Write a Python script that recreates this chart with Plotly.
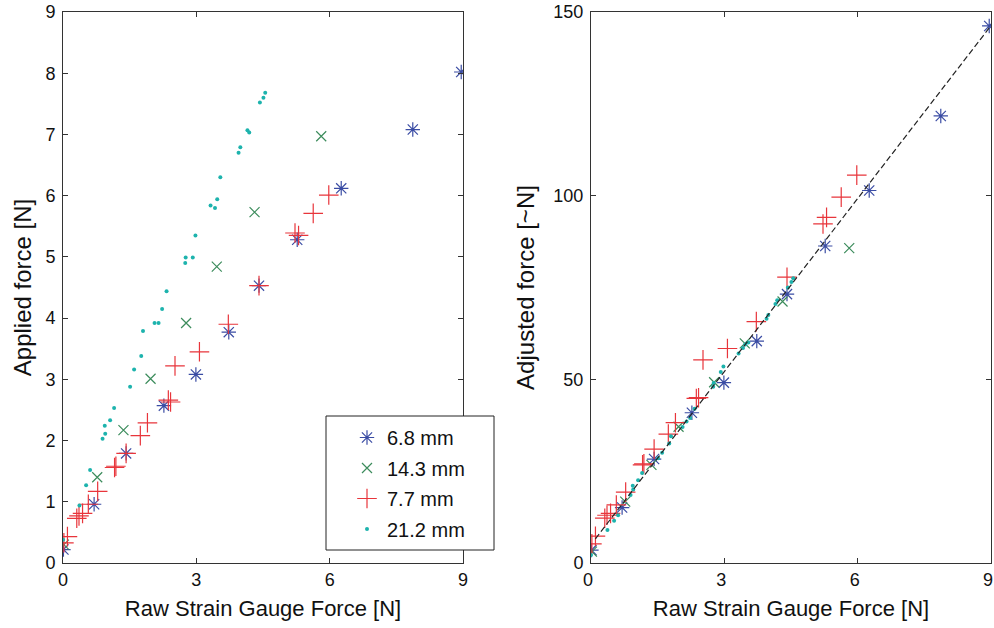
import plotly.graph_objects as go

# ---- data (raw strain gauge force [N]) ----
blue_x = [0.01, 0.70, 1.42, 2.27, 2.99, 3.73, 4.41, 5.27, 6.26, 7.87, 8.96]
blue_applied = [0.22, 0.96, 1.79, 2.57, 3.08, 3.77, 4.53, 5.28, 6.12, 7.08, 8.02]
blue_adjusted = [3.5, 15.1, 28.3, 40.9, 49.1, 60.4, 73.2, 86.3, 101.4, 121.7, 146.2]

green_x = [0.02, 0.77, 1.36, 1.97, 2.77, 3.46, 4.31, 5.81]
green_applied = [0.30, 1.40, 2.17, 3.01, 3.92, 4.84, 5.73, 6.97]
green_adjusted = [3.1, 16.7, 26.7, 37.1, 49.2, 59.8, 71.2, 85.7]

red_x = [0.02, 0.10, 0.31, 0.36, 0.44, 0.57, 0.78, 1.16, 1.19, 1.42, 1.74, 1.90,
         2.37, 2.42, 2.52, 3.07, 3.72, 4.41, 5.22, 5.30, 5.63, 5.98]
red_applied = [0.33, 0.43, 0.73, 0.77, 0.81, 0.96, 1.17, 1.56, 1.58, 1.79, 2.08, 2.29,
               2.66, 2.63, 3.22, 3.45, 3.90, 4.53, 5.39, 5.35, 5.71, 6.01]
red_adjusted = [5.2, 7.3, 12.2, 13.0, 13.5, 15.8, 19.3, 26.7, 27.0, 31.0, 35.1, 38.2,
                44.8, 45.0, 55.3, 58.4, 65.7, 77.8, 92.3, 94.1, 99.6, 105.6]

cyan_x = [0.00, 0.37, 0.52, 0.61, 0.89, 0.95, 0.94, 1.06, 1.15, 1.51, 1.60, 1.76,
          1.80, 2.06, 2.15, 2.23, 2.33, 2.75, 2.76, 2.92, 2.98, 3.32, 3.42, 3.47,
          3.54, 3.95, 3.99, 4.15, 4.19, 4.43, 4.51, 4.55]
cyan_applied = [0.38, 0.94, 1.27, 1.52, 2.03, 2.11, 2.24, 2.33, 2.53, 2.88, 3.16, 3.38,
                3.79, 3.92, 3.92, 4.15, 4.44, 4.90, 4.99, 4.99, 5.35, 5.84, 5.80, 5.94,
                6.30, 6.70, 6.79, 7.07, 7.03, 7.52, 7.60, 7.68]
cyan_adjusted = [2.2, 9.0, 11.5, 13.0, 18.5, 20.0, 21.0, 22.5, 24.5, 28.5, 30.0, 32.5,
                 34.5, 37.0, 38.5, 39.5, 42.0, 48.0, 49.0, 52.0, 53.5, 57.0, 58.5, 59.5,
                 60.0, 66.5, 67.5, 70.5, 71.5, 75.0, 76.5, 77.5]

fit_x = [0.1, 9.0]
fit_y = [6.6, 146.3]

x_ticks = [0, 3, 6, 9]
left_y_ticks = [0, 1, 2, 3, 4, 5, 6, 7, 8, 9]
right_y_ticks = [0, 50, 100, 150]

series = [
    ("6.8 mm", blue_x, blue_applied, blue_adjusted, "#3a4ca4", "asterisk-open", 12),
    ("14.3 mm", green_x, green_applied, green_adjusted, "#3c8c5c", "x-thin-open", 10),
    ("7.7 mm", red_x, red_applied, red_adjusted, "#e8353b", "cross-thin-open", 14),
    ("21.2 mm", cyan_x, cyan_applied, cyan_adjusted, "#1db3ad", "circle", 4),
]

fig = go.Figure()
for name, xs, ya, yb, col, sym, sz in series:
    lw = 0 if sym == "circle" else 1.2
    fig.add_trace(go.Scatter(x=xs, y=ya, mode="markers", name=name, legendgroup=name,
                             marker=dict(symbol=sym, size=sz, color=col,
                                         line=dict(color=col, width=lw)),
                             xaxis="x", yaxis="y"))
for name, xs, ya, yb, col, sym, sz in series:
    lw = 0 if sym == "circle" else 1.2
    fig.add_trace(go.Scatter(x=xs, y=yb, mode="markers", name=name, showlegend=False,
                             marker=dict(symbol=sym, size=sz, color=col,
                                         line=dict(color=col, width=lw)),
                             xaxis="x2", yaxis="y2"))
fig.add_trace(go.Scatter(x=fit_x, y=fit_y, mode="lines", showlegend=False,
                         line=dict(color="#222222", width=1.2, dash="6px,3px"),
                         xaxis="x2", yaxis="y2"))

W, H = 994, 628
axis_common = dict(showline=True, linecolor="#333333", linewidth=1, mirror="ticks",
                   ticks="inside", ticklen=5, tickcolor="#333333", showgrid=False,
                   zeroline=False, automargin=False, ticklabeloverflow="allow",
                   tickfont=dict(size=18, color="#111111"))
ydom = [1 - 563 / H, 1 - 12 / H]

fig.update_layout(
    width=W, height=H,
    margin=dict(l=0, r=0, t=0, b=0),
    paper_bgcolor="white", plot_bgcolor="white",
    font=dict(family="Liberation Sans, Arial, sans-serif", color="#111111"),
    xaxis=dict(domain=[63 / W, 463 / W], range=[0, 9], tickvals=x_ticks, anchor="y",
               title=dict(text="Raw Strain Gauge Force [N]", font=dict(size=22), standoff=12),
               **axis_common),
    yaxis=dict(domain=ydom, range=[0, 9], tickvals=left_y_ticks, anchor="x",
               ticklabelstandoff=3,
               title=dict(text="Applied force [N]", font=dict(size=24), standoff=6),
               **axis_common),
    xaxis2=dict(domain=[591 / W, 991 / W], range=[0, 9], tickvals=x_ticks, anchor="y2",
                ticklabelshift=-3,
                title=dict(text="Raw Strain Gauge Force [N]", font=dict(size=22), standoff=12),
                **axis_common),
    yaxis2=dict(domain=ydom, range=[0, 150], tickvals=right_y_ticks, anchor="x2",
                ticklabelstandoff=3,
                title=dict(text="Adjusted force [~N]", font=dict(size=24), standoff=11),
                **axis_common),
    legend=dict(x=347 / W, y=1 - 418 / H, xanchor="left", yanchor="top",
                bgcolor="rgba(0,0,0,0)", borderwidth=0, tracegroupgap=1.5,
                font=dict(size=20), itemwidth=30),
    shapes=[dict(type="rect", xref="paper", yref="paper", layer="above",
                 x0=326 / W, x1=494 / W, y0=1 - 550 / H, y1=1 - 416 / H,
                 fillcolor="white", line=dict(color="#222222", width=1))],
    showlegend=True,
)

fig.write_html("out.html", config={"displayModeBar": False},
               post_script="document.body.style.margin='0';"
               "document.body.style.overflow='hidden';")
